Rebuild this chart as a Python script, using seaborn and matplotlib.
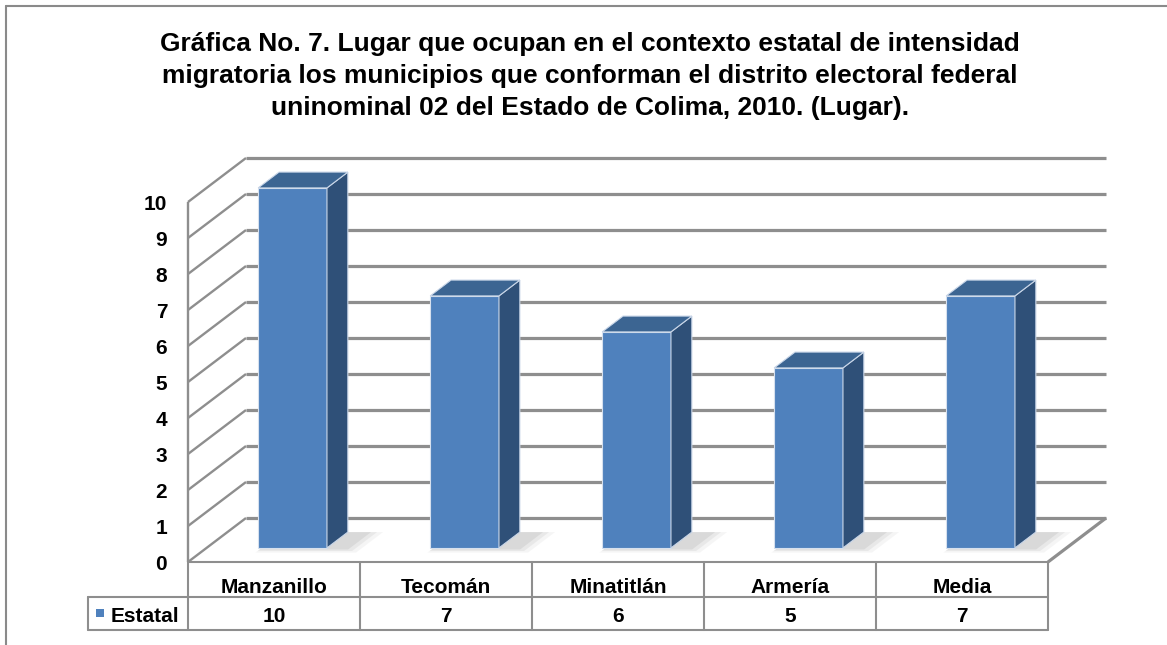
import numpy as np
import pandas as pd
import seaborn as sns
from matplotlib import pyplot as plt
from matplotlib import font_manager
from matplotlib.lines import Line2D
from matplotlib.patches import Polygon, Rectangle
from matplotlib.transforms import IdentityTransform, ScaledTranslation, blended_transform_factory

# data
municipios = ["Manzanillo", "Tecomán", "Minatitlán", "Armería", "Media"]
lugar = [10, 7, 6, 5, 7]
serie = "Estatal"
y_ticks = list(range(0, 11))
titulo = [
    "Gráfica No. 7. Lugar que ocupan en el contexto estatal de intensidad",
    "migratoria los municipios que conforman el distrito electoral federal",
    "uninominal 02 del Estado de Colima, 2010. (Lugar).",
]

W, H, DPI = 1167, 645, 100
DX, DY = 58, 44          # depth of the 3d box, pixels
F1, F2 = 0.32, 0.68      # bar front / back as fraction of depth
GRID = "#8e8e8e"
FRONT, SIDE, TOP = "#4F81BD", "#2F5078", "#3C6592"


def arial_bold(size):
    """Liberation Sans Bold, else a generic bold sans."""
    for f in font_manager.fontManager.ttflist:
        if (f.name == "Liberation Sans" and f.weight in (700, "bold")
                and f.style == "normal"):
            return font_manager.FontProperties(fname=f.fname, size=size)
    return font_manager.FontProperties(family="DejaVu Sans", weight="bold", size=size)


def main():
    sns.set_style("white")
    plt.rcParams["font.family"] = ["Liberation Sans", "DejaVu Sans"]
    plt.rcParams["text.color"] = "black"

    lab = arial_bold(15)
    tit = arial_bold(19)

    fig = plt.figure(figsize=(W / DPI, H / DPI), dpi=DPI)
    # front plane of the plot box: x 188..1048 px, y 202..562 px
    ax = fig.add_axes([188 / W, (H - 562) / H, 860 / W, 360 / H])
    ax.patch.set_alpha(0)
    ident = IdentityTransform()

    df = pd.DataFrame({"municipio": municipios, "lugar": lugar})
    sns.barplot(data=df, x="municipio", y="lugar", color=FRONT, saturation=1,
                width=0.4, edgecolor="#d6e0ee", linewidth=0.8, ax=ax)
    ax.set_xlim(-0.5, len(municipios) - 0.5)
    ax.set_ylim(0, 10)
    ax.set_xticks([])
    ax.set_yticks(y_ticks)
    ax.set_yticklabels([str(t) for t in y_ticks], fontproperties=lab, color="black")
    ax.tick_params(axis="y", length=0, pad=15)
    ax.set_xlabel("")
    ax.set_ylabel("")
    sns.despine(ax=ax, left=True, bottom=True)

    def proj(x, y, d):
        p = ax.transData.transform((x, y))
        return p[0] + d * DX, p[1] + d * DY

    def seg(p, q, lw=1.6, z=1):
        ax.add_line(Line2D([p[0], q[0]], [p[1], q[1]], transform=ident,
                           color=GRID, lw=lw, clip_on=False, zorder=z,
                           solid_capstyle="butt"))

    x0, x1 = ax.get_xlim()
    # back wall gridlines and left wall
    for v in y_ticks:
        seg(proj(x0, v, 1), proj(x1, v, 1), lw=2.3)
        seg(proj(x0, v, 0), proj(x0, v, 1), lw=1.7)
    seg(proj(x0, 0, 0), proj(x0, 10, 0), lw=1.7)
    seg(proj(x1, 0, 0), proj(x1, 0, 1), lw=2.3)

    # 3d bars from the seaborn patches
    shift = ScaledTranslation(F1 * DX / DPI, F1 * DY / DPI, fig.dpi_scale_trans)
    for p in list(ax.patches):
        bx, bw, bh = p.get_x(), p.get_width(), p.get_height()
        # soft shadow on the floor
        for k, a in enumerate([0.07, 0.10, 0.14]):
            grow = (3 - k) * 0.035
            sh = [proj(bx + 0.02, 0, F1 - grow), proj(bx + bw + 0.10 + grow, 0, F1 - grow),
                  proj(bx + bw + 0.10 + grow, 0, F2), proj(bx + 0.02, 0, F2)]
            ax.add_patch(Polygon(sh, closed=True, transform=ident, facecolor="#7f7f7f",
                                 edgecolor="none", alpha=a, zorder=2, clip_on=False))
        p.set_transform(ax.transData + shift)
        p.set_zorder(4)
        p.set_clip_on(False)
        side = [proj(bx + bw, 0, F1), proj(bx + bw, bh, F1),
                proj(bx + bw, bh, F2), proj(bx + bw, 0, F2)]
        top = [proj(bx, bh, F1), proj(bx + bw, bh, F1),
               proj(bx + bw, bh, F2), proj(bx, bh, F2)]
        for verts, col in [(side, SIDE), (top, TOP)]:
            ax.add_patch(Polygon(verts, closed=True, transform=ident, facecolor=col,
                                 edgecolor="#c9d6e8", lw=0.8, zorder=4, clip_on=False))

    # data table under the chart
    t_top = proj(x0, 0, 0)[1]
    r1, r2 = t_top - 35, t_top - 68
    bt = blended_transform_factory(ax.transData, ident)
    leg_left = x0 - 100 / (ax.transData.transform((1, 0))[0] - ax.transData.transform((0, 0))[0])
    tl = dict(color=GRID, lw=1.5, transform=bt, clip_on=False, zorder=3)
    ax.add_line(Line2D([x0, x1], [t_top, t_top], **tl))
    ax.add_line(Line2D([leg_left, x1], [r1, r1], **tl))
    ax.add_line(Line2D([leg_left, x1], [r2, r2], **tl))
    ax.add_line(Line2D([leg_left, leg_left], [r1, r2], **tl))
    for i in range(len(municipios) + 1):
        xb = x0 + i
        ax.add_line(Line2D([xb, xb], [t_top, r2], **tl))
    for i, (m, v) in enumerate(zip(municipios, lugar)):
        ax.text(i, t_top - 31, m, transform=bt, ha="center", va="baseline",
                fontproperties=lab, color="black")
        ax.text(i, r1 - 25, str(v), transform=bt, ha="center", va="baseline",
                fontproperties=lab, color="black")
    cell_w = (x0 - leg_left)
    ax.add_patch(Rectangle((leg_left + cell_w * 0.08, r1 - 20), cell_w * 0.08, 8,
                           transform=bt, facecolor=FRONT, edgecolor="none", clip_on=False))
    ax.text(leg_left + cell_w * 0.23, r1 - 25, serie, transform=bt, ha="left",
            va="baseline", fontproperties=lab, color="black")

    # title
    for k, line in enumerate(titulo):
        fig.text(590 / W, 1 - (51 + 32 * k) / H, line, ha="center", va="baseline",
                 fontproperties=tit, color="black")

    # outer chart border (cut at right and bottom)
    fig.add_artist(Line2D([6 / W, 1], [1 - 6 / H, 1 - 6 / H], color="#8a8a8a", lw=1.5))
    fig.add_artist(Line2D([6 / W, 6 / W], [0, 1 - 6 / H], color="#8a8a8a", lw=1.5))

    fig.savefig("out.png", dpi=DPI)
    plt.close(fig)


if __name__ == "__main__":
    main()
